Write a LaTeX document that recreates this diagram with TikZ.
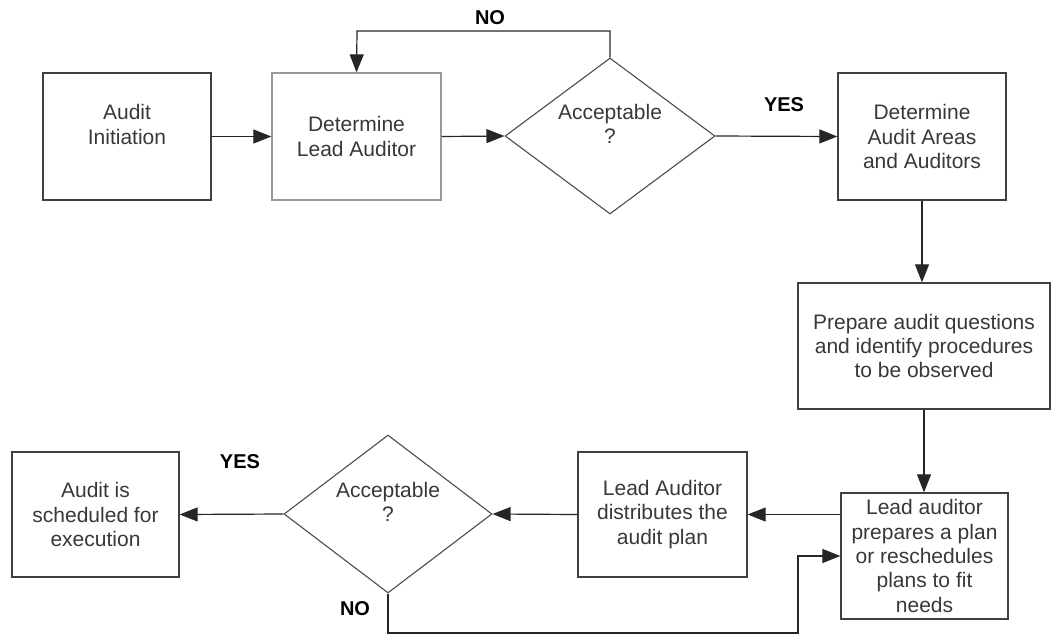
\documentclass[tikz,border=0pt]{standalone}
\usepackage{fontspec}
\setmainfont{Liberation Sans}
\usetikzlibrary{shapes.geometric,arrows.meta}
\begin{document}
\begin{tikzpicture}[x=1pt,y=-1pt,
  txt/.style={font=\fontsize{21}{24.4}\selectfont, text=black!78, align=center},
  stepbox/.style={txt, draw=black!75, line width=1.3pt, inner sep=0pt},
  lightbox/.style={stepbox, draw=black!40},
  decision/.style={txt, shape=diamond, draw=black!70, line width=1.1pt, inner sep=0pt, aspect=1.35},
  flow/.style={draw=black!85, line width=1.2pt, -{Triangle[length=18pt,width=14pt]}},
  answer/.style={font=\fontsize{20}{24}\selectfont\bfseries, text=black}]
  \useasboundingbox (0,0) rectangle (1052,635);

  % process steps
  \node[stepbox, minimum width=168pt, minimum height=127pt] (ai) at (127,136.5) {Audit\\Initiation\\~};
  \node[lightbox, minimum width=169pt, minimum height=127pt] (dla) at (356.5,136.5) {Determine\\Lead Auditor};
  \node[decision, minimum width=210pt, minimum height=156pt] (d1) at (610,136) {Acceptable\\?\\~};
  \node[stepbox, minimum width=168pt, minimum height=127pt] (daa) at (922,136.5) {Determine\\Audit Areas\\and Auditors};
  \node[stepbox, minimum width=252pt, minimum height=126pt] (prep) at (924,346) {Prepare audit questions\\and identify procedures\\to be observed};
  \node[stepbox, minimum width=167pt, minimum height=126pt] (la) at (924.5,556) {Lead auditor\\prepares a plan\\or reschedules\\plans to fit\\needs};
  \node[stepbox, minimum width=169pt, minimum height=125pt] (dist) at (662.5,514.5) {Lead Auditor\\distributes the\\audit plan};
  \node[decision, minimum width=208pt, minimum height=158pt] (d2) at (388,514) {Acceptable\\?\\~};
  \node[stepbox, minimum width=167pt, minimum height=125pt] (sched) at (95.5,514.5) {Audit is\\scheduled for\\execution};

  % routing points
  \coordinate (loop) at (357,31);
  \coordinate (ret) at (798,633);

  % connectors
  \draw[flow] (ai.east) -- (dla.west);
  \draw[flow] (dla.east) -- (d1.west);
  \draw[flow] (d1.north) |- (loop) -- (dla.north);
  \draw[flow] (d1.east) -- (daa.west);
  \draw[flow] (daa.south) -- (daa.south |- prep.north);
  \draw[flow] (prep.south) -- (prep.south |- la.north);
  \draw[flow] (la.west |- dist.east) -- (dist.east);
  \draw[flow] (dist.west) -- (d2.east);
  \draw[flow] (d2.west) -- (sched.east);
  \draw[flow] (d2.south) |- (ret) |- (la.west);

  % decision labels
  \node[answer] (no1) at (490,18) {NO};
  \node[answer] (yes1) at (784,105) {YES};
  \node[answer] (yes2) at (240,462) {YES};
  \node[answer] (no2) at (355,609) {NO};
\end{tikzpicture}
\end{document}
